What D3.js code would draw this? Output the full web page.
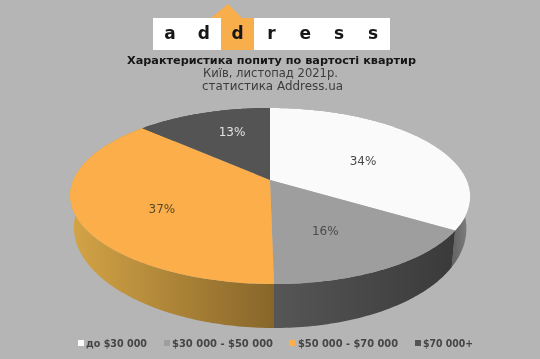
<!DOCTYPE html>
<html>
<head>
<meta charset="utf-8">
<script src="https://cdn.jsdelivr.net/npm/d3@7"></script>
<style>
  html, body { margin: 0; padding: 0; background: #b5b5b5; overflow: hidden; }
  svg { display: block; font-family: "DejaVu Sans", sans-serif; filter: blur(0.35px); }
</style>
</head>
<body>
<svg id="chart" width="540" height="359"></svg>
<script>
// data
const categories = ["до $30 000", "$30 000 - $50 000", "$50 000 - $70 000", "$70 000+"];
const shares = [34, 16, 37, 13];
const logoLetters = ["a", "d", "d", "r", "e", "s", "s"];

const titleText = "Характеристика попиту по вартості квартир";
const subtitleLines = ["Київ, листопад 2021р.", "статистика Address.ua"];

const topColors = ["#fafafa", "#9e9e9e", "#fbae4a", "#545454"];
const wallColors = [["#646464", "#7e7e7e"], ["#3a3a3a", "#565656"], ["#d3a346", "#87662a"], ["#444", "#444"]];
const labelColors = ["#4a4a4a", "#4a4a4a", "#5a4a2a", "#e2e2e2"];

const svg = d3.select("#chart");
const width = 540, height = 359;

svg.append("rect").attr("width", width).attr("height", height).attr("fill", "#b5b5b5");

// logo
const logo = { left: 153, right: 390, top: 18, bottom: 50, squareLeft: 221, squareRight: 254 };
svg.append("rect")
  .attr("x", logo.left).attr("y", logo.top)
  .attr("width", logo.right - logo.left).attr("height", logo.bottom - logo.top)
  .attr("fill", "#fff");
svg.append("path")
  .attr("d", d3.line()([
    [logo.squareLeft, logo.bottom], [logo.squareLeft, logo.top], [211, logo.top], [228, 4],
    [242, logo.top], [logo.squareRight, logo.top], [logo.squareRight, logo.bottom]
  ]))
  .attr("fill", "#f9ae4c");

const logoX = d3.scalePoint().domain(d3.range(logoLetters.length)).range([170, 373]);
svg.selectAll(".logo-letter")
  .data(logoLetters)
  .enter().append("text")
  .attr("class", "logo-letter")
  .attr("x", (d, i) => logoX(i))
  .attr("y", 39)
  .attr("text-anchor", "middle")
  .attr("font-size", 17)
  .attr("font-weight", 700)
  .attr("fill", "#161616")
  .text(d => d);

// titles
svg.append("text")
  .attr("x", 127).attr("y", 63.5)
  .attr("textLength", 289).attr("lengthAdjust", "spacingAndGlyphs")
  .attr("font-size", 11).attr("font-weight", 700).attr("fill", "#161616")
  .text(titleText);
svg.selectAll(".subtitle")
  .data(subtitleLines)
  .enter().append("text")
  .attr("class", "subtitle")
  .attr("x", (d, i) => i === 0 ? 203 : 202)
  .attr("y", (d, i) => 77 + i * 13)
  .attr("textLength", (d, i) => i === 0 ? 135 : 141)
  .attr("lengthAdjust", "spacingAndGlyphs")
  .attr("font-size", 11.5).attr("fill", "#3c3c3c")
  .text(d => d);

// pie: slices come from d3.pie, then a perspective projection flattens the disc
const pie = d3.pie().sort(null).value(d => d);
const slices = pie(shares);

const tilt = 0.1818;
function projector(cx, cy, rx, ry) {
  return function(angle, r) {
    const u = r * Math.sin(angle);
    const v = -r * Math.cos(angle);
    const d = 1 - tilt * v;
    // the drawn disc leans a little to the right in its lower half
    const lean = v > 0 ? 4 * v * v : 0;
    return [cx + rx * u / d + lean, cy + ry * v / d];
  };
}
const topFace = projector(270, 180, 196.7, 85.1);
const bottomFace = projector(270, 209.8, 193, 96.7);

const line = d3.line();
function edge(face, start, end) {
  const n = Math.max(2, Math.ceil((end - start) * 60));
  return d3.range(n + 1).map(i => face(start + (end - start) * i / n, 1));
}

const defs = svg.append("defs");
slices.forEach((s, i) => {
  const xs = d3.extent(edge(topFace, s.startAngle, s.endAngle), p => p[0]);
  const grad = defs.append("linearGradient")
    .attr("id", "wall" + i)
    .attr("gradientUnits", "userSpaceOnUse")
    .attr("x1", i === 0 ? 453 : (i === 1 ? xs[1] : 72))
    .attr("x2", i === 0 ? 468 : (i === 1 ? xs[0] : 274))
    .attr("y1", 0).attr("y2", 0);
  grad.append("stop").attr("offset", 0).attr("stop-color", wallColors[i][0]);
  grad.append("stop").attr("offset", 1).attr("stop-color", wallColors[i][1]);
});

// walls first, the top face covers whatever is behind it
svg.append("g").selectAll("path")
  .data(slices)
  .enter().append("path")
  .attr("d", s => line(edge(topFace, s.startAngle, s.endAngle)
      .concat(edge(bottomFace, s.startAngle, s.endAngle).reverse())) + "Z")
  .attr("fill", (s, i) => "url(#wall" + i + ")");

svg.append("g").selectAll("path")
  .data(slices)
  .enter().append("path")
  .attr("d", s => line([topFace(0, 0)].concat(edge(topFace, s.startAngle, s.endAngle))) + "Z")
  .attr("fill", (s, i) => topColors[i]);

// percent labels, the chart places them by hand rather than on one radius
const labelNudge = [[1, 3], [-4, 5], [-3, 9], [2, -8]];
svg.append("g").selectAll("text")
  .data(slices)
  .enter().append("text")
  .attr("x", (s, i) => topFace((s.startAngle + s.endAngle) / 2, 0.56)[0] + labelNudge[i][0])
  .attr("y", (s, i) => topFace((s.startAngle + s.endAngle) / 2, 0.56)[1] + labelNudge[i][1] + 4)
  .attr("text-anchor", "middle")
  .attr("font-size", 12)
  .attr("fill", (s, i) => labelColors[i])
  .text(s => s.data + "%");

// legend
const legendSwatch = [78, 164, 289, 415];
const legendText = [86, 172, 298, 423];
const legendWidth = [61, 101, 100, 50];
const legend = svg.append("g").selectAll("g")
  .data(categories)
  .enter().append("g");
legend.append("rect")
  .attr("x", (d, i) => legendSwatch[i]).attr("y", 340)
  .attr("width", 6).attr("height", 6)
  .attr("fill", (d, i) => topColors[i]);
legend.append("text")
  .attr("x", (d, i) => legendText[i]).attr("y", 347)
  .attr("textLength", (d, i) => legendWidth[i]).attr("lengthAdjust", "spacingAndGlyphs")
  .attr("font-size", 10).attr("font-weight", 700).attr("fill", "#454545")
  .text(d => d);
</script>
</body>
</html>
